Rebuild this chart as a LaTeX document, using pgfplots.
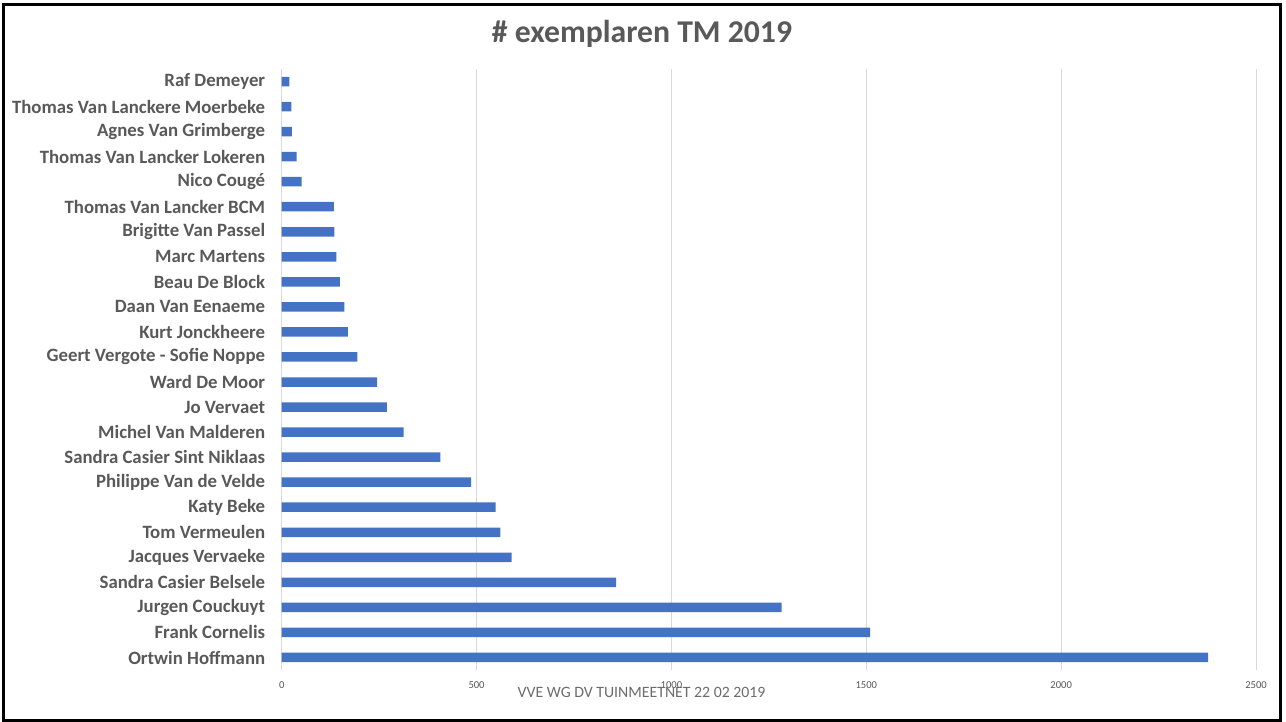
\documentclass[border=0pt]{standalone}
\usepackage{fontspec}
\setmainfont{Carlito}
\usepackage{pgfplots}
\pgfplotsset{compat=1.18}
\definecolor{barblue}{HTML}{4472C4}
\definecolor{txtgray}{HTML}{595959}
\definecolor{gridgray}{HTML}{D9D9D9}
\begin{document}
\begin{tikzpicture}
\useasboundingbox (0pt,0pt) rectangle (1286pt,722pt);
\fill[white] (0pt,0pt) rectangle (1286pt,722pt);
\draw[black, line width=3pt] (3.5pt,1.5pt) rectangle (1280.5pt,717.5pt);
\node[font=\fontsize{31.7}{36}\selectfont\bfseries, text=txtgray] at (642pt,688pt) {\# exemplaren TM 2019};
\begin{axis}[
  at={(281.7pt,52pt)}, anchor=south west,
  scale only axis, width=974.3pt, height=601pt,
  xmin=0, xmax=2500,
  ymin=-0.5, ymax=23.5,
  xtick={0,500,1000,1500,2000,2500},
  ytick={0,...,23},
  yticklabels={Ortwin Hoffmann, Frank Cornelis, Jurgen Couckuyt, Sandra Casier Belsele, Jacques Vervaeke, Tom Vermeulen, Katy Beke, Philippe Van de Velde, Sandra Casier Sint Niklaas, Michel Van Malderen, Jo Vervaet, Ward De Moor, Geert Vergote - Sofie Noppe, Kurt Jonckheere, Daan Van Eenaeme, Beau De Block, Marc Martens, Brigitte Van Passel, Thomas Van Lancker BCM, Nico Cougé, Thomas Van Lancker Lokeren, Agnes Van Grimberge, Thomas Van Lanckere Moerbeke, Raf Demeyer},
  yticklabel style={font=\fontsize{18.8}{22}\selectfont\bfseries, text=txtgray},
  xticklabel style={font=\fontsize{10.6}{12}\selectfont, text=txtgray},
  /pgf/number format/assume math mode=true,
  /pgf/number format/1000 sep={},
  major tick length=0pt,
  xmajorgrids, grid style={gridgray, line width=1pt},
  axis line style={draw=none},
  axis x line*=bottom,
  axis y line*=left,
  xticklabel shift=8pt,
  yticklabel shift=13pt,
  xbar, bar width=9.5pt,
  clip=false,
]
\draw[gridgray, line width=1pt] (axis cs:0,-0.5) -- (axis cs:0,23.5);
\addplot[fill=barblue, draw=none] coordinates {
(2377,0) (1510,1) (1283,2) (858,3) (590,4) (561,5) (549,6) (486,7) (407,8) (313,9) (270,10) (245,11) (194,12) (170,13) (161,14) (149,15) (140,16) (135,17) (134,18) (51,19) (38,20) (26,21) (25,22) (20,23)
};
\end{axis}
\node[font=\fontsize{15.8}{18}\selectfont, text=gray!85!black] at (641.5pt,30pt) {VVE WG DV TUINMEETNET 22 02 2019};
\end{tikzpicture}
\end{document}
